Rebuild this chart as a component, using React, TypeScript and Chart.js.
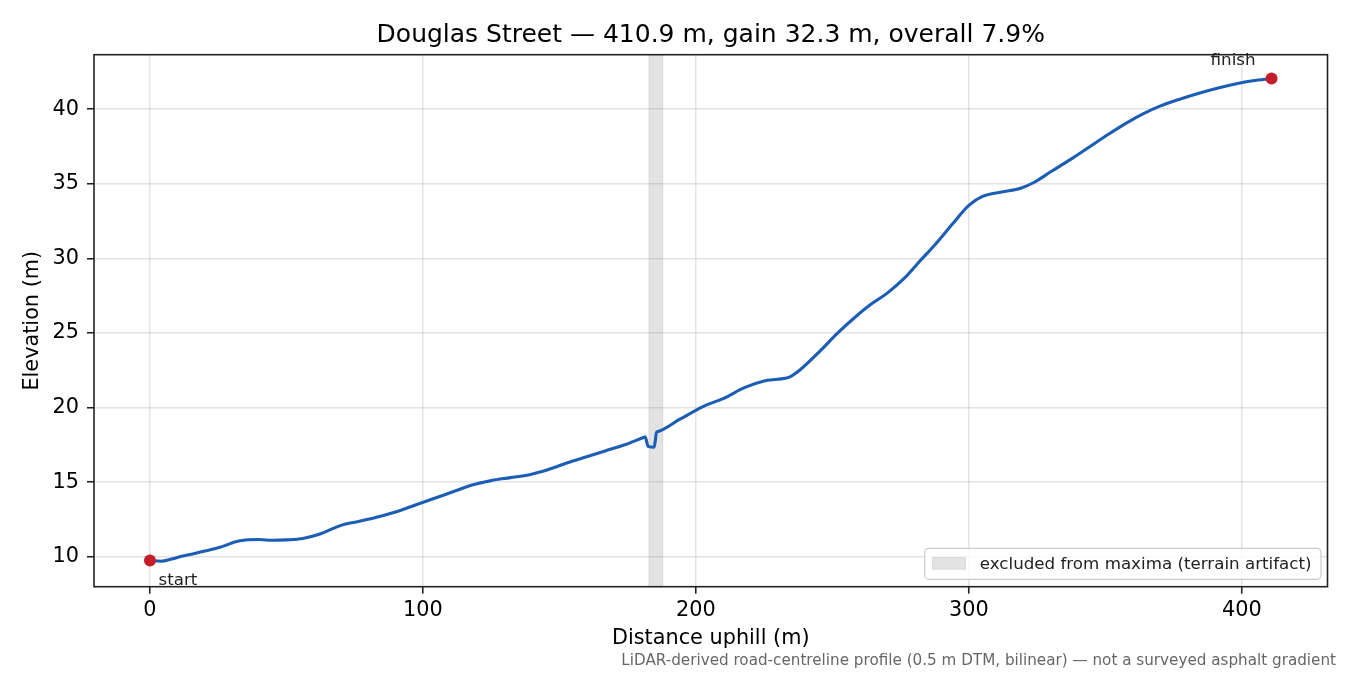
import React, { useEffect, useRef } from "react";
import { Chart, registerables } from "chart.js";

Chart.register(...registerables);

// elevation profile
const distance = [
  0, 4, 8, 12, 16, 20, 25, 28, 31, 35, 40, 45, 50, 56, 62, 70, 76, 83, 90, 97,
  104, 111, 118, 125, 132, 139, 146, 153, 160, 167, 174, 180.8, 181.4, 182.5,
  184.7, 185.6, 186.2, 194, 203, 210, 218, 225, 230, 234, 238, 245, 252, 258,
  264, 270, 276, 282, 288, 294, 300, 305, 312, 319, 324, 330, 337, 344, 351,
  358, 364, 370, 377, 384, 391, 398, 404, 410.9,
];
const elevation = [
  9.75, 9.7, 9.85, 10.05, 10.2, 10.38, 10.6, 10.78, 10.98, 11.12, 11.15, 11.1,
  11.13, 11.22, 11.5, 12.1, 12.35, 12.65, 13.0, 13.45, 13.9, 14.35, 14.8, 15.1,
  15.3, 15.5, 15.85, 16.3, 16.7, 17.1, 17.5, 17.99, 18.03, 17.4, 17.34, 18.34,
  18.4, 19.2, 20.1, 20.6, 21.35, 21.78, 21.9, 22.02, 22.5, 23.7, 25.0, 26.0,
  26.9, 27.65, 28.6, 29.8, 31.0, 32.3, 33.55, 34.15, 34.45, 34.7, 35.1, 35.8,
  36.6, 37.45, 38.3, 39.1, 39.7, 40.2, 40.65, 41.05, 41.4, 41.7, 41.9, 42.05,
];

const endpointNames = ["start", "finish"];
const artifactZone = [182.8, 187.9];
const artifactLabel = "excluded from maxima (terrain artifact)";
const xTicks = [0, 100, 200, 300, 400];
const yTicks = [10, 15, 20, 25, 30, 35, 40];

const titleText = "Douglas Street \u2014 410.9 m, gain 32.3 m, overall 7.9%";
const footnote =
  "LiDAR-derived road-centreline profile (0.5 m DTM, bilinear) \u2014 not a surveyed asphalt gradient";

const FONT = "DejaVu Sans";
const BAND_FILL = "rgba(128,128,128,0.22)";
const BAND_EDGE = "rgba(128,128,128,0.18)";

const extrasPlugin = {
  id: "extras",
  beforeDatasetsDraw(chart: any) {
    const { ctx, chartArea, scales } = chart;
    const x0 = scales.x.getPixelForValue(artifactZone[0]);
    const x1 = scales.x.getPixelForValue(artifactZone[1]);
    ctx.save();
    ctx.fillStyle = BAND_FILL;
    ctx.fillRect(x0, chartArea.top, x1 - x0, chartArea.bottom - chartArea.top);
    ctx.strokeStyle = BAND_EDGE;
    ctx.lineWidth = 1;
    ctx.strokeRect(x0, chartArea.top, x1 - x0, chartArea.bottom - chartArea.top);
    ctx.restore();
  },
  afterDraw(chart: any) {
    const { ctx, chartArea, scales } = chart;
    ctx.save();

    // axes frame
    ctx.strokeStyle = "#222";
    ctx.lineWidth = 1.6;
    ctx.strokeRect(
      chartArea.left,
      chartArea.top,
      chartArea.right - chartArea.left,
      chartArea.bottom - chartArea.top
    );

    // start / finish annotations
    const last = distance.length - 1;
    ctx.fillStyle = "#222";
    ctx.font = `16.7px ${FONT}`;
    ctx.textBaseline = "middle";
    ctx.textAlign = "left";
    ctx.fillText(
      endpointNames[0],
      scales.x.getPixelForValue(distance[0]) + 8.5,
      scales.y.getPixelForValue(elevation[0]) + 20.5
    );
    ctx.textAlign = "right";
    ctx.fillText(
      endpointNames[1],
      scales.x.getPixelForValue(distance[last]) - 16,
      scales.y.getPixelForValue(elevation[last]) - 18
    );

    // legend, lower right inside the axes
    ctx.font = `16.7px ${FONT}`;
    const tw = ctx.measureText(artifactLabel).width;
    const bw = 7.7 + 33 + 14.3 + tw + 9.5;
    const bh = 31;
    const bx = chartArea.right - 6.5 - bw;
    const by = chartArea.bottom - 7.4 - bh;
    ctx.beginPath();
    ctx.roundRect(bx, by, bw, bh, 4);
    ctx.fillStyle = "rgba(255,255,255,0.8)";
    ctx.fill();
    ctx.strokeStyle = "#cccccc";
    ctx.lineWidth = 1.2;
    ctx.stroke();
    ctx.fillStyle = BAND_FILL;
    ctx.fillRect(bx + 7.7, by + 9, 33, 12);
    ctx.strokeStyle = BAND_EDGE;
    ctx.lineWidth = 1;
    ctx.strokeRect(bx + 7.7, by + 9, 33, 12);
    ctx.fillStyle = "#222";
    ctx.textAlign = "left";
    ctx.textBaseline = "middle";
    ctx.fillText(artifactLabel, bx + 55, by + bh / 2 + 0.5);

    // footnote
    ctx.font = `15.2px ${FONT}`;
    ctx.fillStyle = "#666";
    ctx.textAlign = "right";
    ctx.textBaseline = "alphabetic";
    ctx.fillText(footnote, 1336, 665);

    ctx.restore();
  },
};

const App = () => {
  const canvasRef = useRef<HTMLCanvasElement | null>(null);
  const chartRef = useRef<Chart | null>(null);

  useEffect(() => {
    const ctx = canvasRef.current?.getContext("2d");
    if (!ctx) return;
    if (chartRef.current) chartRef.current.destroy();

    Chart.defaults.font.family = FONT;
    Chart.defaults.color = "#000";

    const last = distance.length - 1;

    chartRef.current = new Chart(ctx, {
      type: "line",
      data: {
        datasets: [
          {
            type: "scatter",
            label: "endpoints",
            data: [
              { x: distance[0], y: elevation[0] },
              { x: distance[last], y: elevation[last] },
            ],
            backgroundColor: "#c41e2a",
            borderColor: "#c41e2a",
            pointRadius: 6,
            pointBorderWidth: 0,
            order: 0,
          },
          {
            label: "elevation",
            data: distance.map((d, i) => ({ x: d, y: elevation[i] })),
            borderColor: "#1c5db5",
            borderWidth: 3.1,
            pointRadius: 0,
            cubicInterpolationMode: "monotone",
            fill: false,
            order: 1,
          },
        ],
      },
      plugins: [extrasPlugin],
      options: {
        animation: false,
        responsive: true,
        maintainAspectRatio: false,
        layout: { padding: { left: 0, right: 22.5, top: 0, bottom: 0 } },
        scales: {
          x: {
            type: "linear",
            min: -20.5,
            max: 431.4,
            afterBuildTicks: (scale: any) => {
              scale.ticks = xTicks.map((v) => ({ value: v }));
            },
            afterFit: (scale: any) => {
              scale.height = 88.3;
            },
            ticks: {
              font: { size: 20.8 },
              color: "#000",
              padding: 4,
              maxRotation: 0,
              callback: (v: any) => String(v),
            },
            grid: {
              color: "rgba(176,176,176,0.35)",
              lineWidth: 1.5,
              tickColor: "#222",
              tickWidth: 1.6,
              tickLength: 7,
            },
            border: { display: false },
            title: {
              display: true,
              text: "Distance uphill (m)",
              font: { size: 20.8 },
              color: "#000",
              padding: { top: 0, bottom: 23.7 },
            },
          },
          y: {
            type: "linear",
            min: 7.99,
            max: 43.65,
            afterBuildTicks: (scale: any) => {
              scale.ticks = yTicks.map((v) => ({ value: v }));
            },
            afterFit: (scale: any) => {
              scale.width = 94;
            },
            ticks: {
              font: { size: 20.8 },
              color: "#000",
              padding: 8,
              callback: (v: any) => String(v),
            },
            grid: {
              color: "rgba(176,176,176,0.35)",
              lineWidth: 1.5,
              tickColor: "#222",
              tickWidth: 1.6,
              tickLength: 7,
            },
            border: { display: false },
            title: {
              display: true,
              text: "Elevation (m)",
              font: { size: 20.8 },
              color: "#000",
              padding: { top: 20.3, bottom: 0 },
            },
          },
        },
        plugins: {
          legend: { display: false },
          tooltip: { enabled: false },
          title: {
            display: true,
            text: titleText,
            fullSize: false,
            color: "#000",
            font: { size: 25, weight: "normal", lineHeight: 1.2 },
            padding: { top: 20.5, bottom: 4.2 },
          },
        },
      },
    } as any);

    return () => {
      if (chartRef.current) {
        chartRef.current.destroy();
        chartRef.current = null;
      }
    };
  }, []);

  return (
    <div
      style={{
        position: "fixed",
        left: 0,
        top: 0,
        width: 1350,
        height: 675,
        background: "#fff",
      }}
    >
      <canvas ref={canvasRef}></canvas>
    </div>
  );
};

export default App;
